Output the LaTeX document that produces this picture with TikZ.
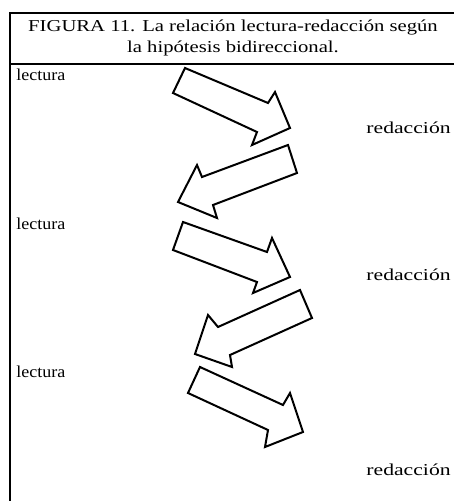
\documentclass[tikz,border=0pt]{standalone}
\usepackage{fontspec}
\setmainfont{Liberation Serif}
\begin{document}
\begin{tikzpicture}[x=0.75pt,y=-0.75pt,
  frameline/.style={line width=2.2pt},
  sepline/.style={line width=1.5pt},
  blockarrow/.style={draw,line width=1.5pt,line join=miter,fill=white},
  label/.style={font=\fontsize{12.5}{14}\selectfont,inner sep=0pt},
  titletext/.style={font=\fontsize{12.5}{15.5}\selectfont,inner sep=0pt,align=center,xscale=1.24}]
\useasboundingbox (0,0) rectangle (454,501);
% frame
\coordinate (tl) at (10,13);
\coordinate (tr) at (454,13);
\coordinate (bl) at (10,501);
\coordinate (hl) at (10,64);
\coordinate (hr) at (454,64);
\draw[frameline] (bl) -- (tl) -- (tr);
\draw[sepline] (hl) -- (hr);
% title
\node[titletext] (title) at (233,38) {FIGURA 11. La relación lectura-redacción según\\la hipótesis bidireccional.};
% labels
\node[label,anchor=west,xscale=1.08] (l1) at (16,75) {lectura};
\node[label,anchor=west,xscale=1.08] (l2) at (16,224) {lectura};
\node[label,anchor=west,xscale=1.08] (l3) at (16,372) {lectura};
\node[label,anchor=east,xscale=1.3] (r1) at (451,128) {redacción};
\node[label,anchor=east,xscale=1.3] (r2) at (451,275) {redacción};
\node[label,anchor=east,xscale=1.3] (r3) at (451,470) {redacción};
% block arrows
\draw[blockarrow] (185,68) -- (173,93) -- (257,132) -- (252,145) -- (290,128) -- (275,92) -- (268,103) -- cycle;
\draw[blockarrow] (288,145) -- (297,173) -- (213,205) -- (217,218) -- (178,202) -- (197,165) -- (202,177) -- cycle;
\draw[blockarrow] (183,222) -- (173,250) -- (257,282) -- (253,293) -- (290,277) -- (272,238) -- (267,252) -- cycle;
\draw[blockarrow] (300,290) -- (312,318) -- (230,355) -- (232,367) -- (195,354) -- (208,315) -- (218,327) -- cycle;
\draw[blockarrow] (200,367) -- (188,393) -- (268,430) -- (265,447) -- (303,432) -- (290,393) -- (283,405) -- cycle;
\end{tikzpicture}
\end{document}
